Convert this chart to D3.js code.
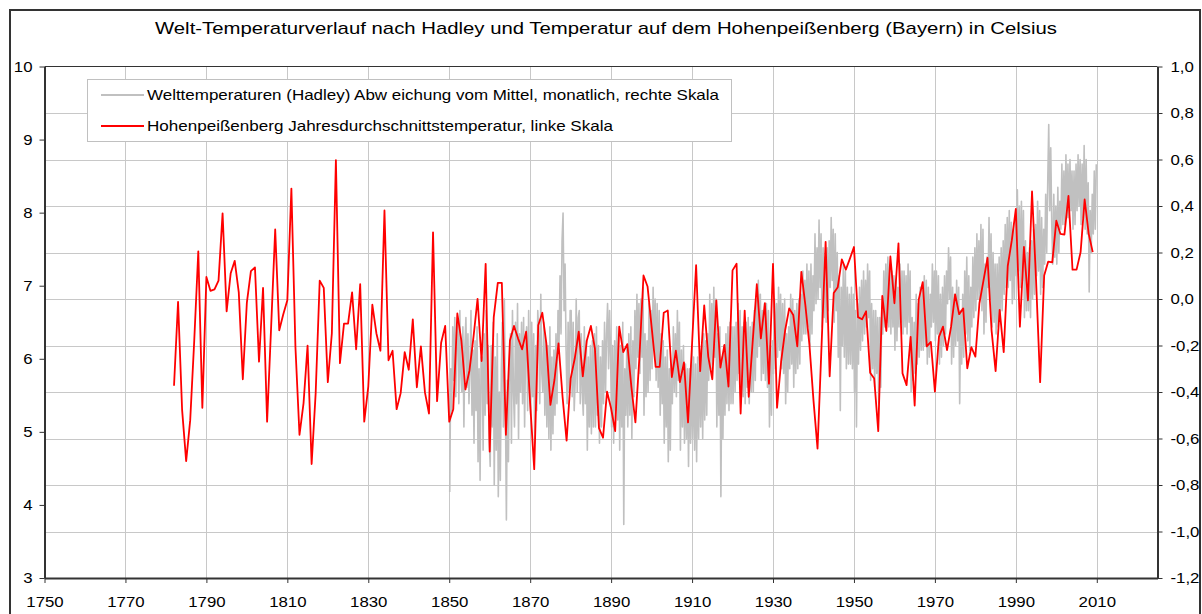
<!DOCTYPE html>
<html><head><meta charset="utf-8">
<script src="https://cdn.jsdelivr.net/npm/d3@7"></script>
<style>
html,body{margin:0;padding:0;background:#fff;}
svg{display:block;font-family:"Liberation Sans",Arial,sans-serif;}
</style></head><body>
<svg id="chart" width="1202" height="614"></svg>
<script>
const titleText = "Welt-Temperaturverlauf nach Hadley und Temperatur auf dem Hohenpeißenberg (Bayern) in Celsius";
const legendLabels = [
  "Welttemperaturen (Hadley) Abw eichung vom Mittel, monatlich, rechte Skala",
  "Hohenpeißenberg Jahresdurchschnittstemperatur, linke Skala"
];
const xTicks = [1750,1770,1790,1810,1830,1850,1870,1890,1910,1930,1950,1970,1990,2010];
const leftTicks = [3,4,5,6,7,8,9,10];
const rightTicks = [-1.2,-1.0,-0.8,-0.6,-0.4,-0.2,0.0,0.2,0.4,0.6,0.8,1.0];

// Hohenpeißenberg annual mean temperature (°C), left scale, one value per year
const hpbStartYear = 1782;
const hpbValues = [
5.63,6.78,5.30,4.60,5.16,6.25,7.47,5.33,7.12,6.93,
6.95,7.07,7.99,6.65,7.17,7.34,6.91,5.72,6.77,7.20,
7.25,5.96,6.97,5.14,6.44,7.77,6.39,6.61,6.80,8.33,
6.16,4.96,5.39,6.18,4.56,5.53,7.07,6.97,5.68,6.35,
8.72,5.94,6.48,6.48,6.91,6.13,7.02,5.14,5.62,6.74,
6.35,6.11,8.03,5.98,6.11,5.31,5.53,6.09,5.85,6.54,
5.61,6.17,5.54,5.25,7.73,5.42,6.22,6.45,5.14,5.31,
6.62,6.25,5.58,5.84,6.30,6.82,5.97,7.30,4.73,6.57,
7.04,7.04,4.96,6.25,6.45,6.28,6.13,6.37,5.39,4.49,
6.46,6.63,6.21,5.37,5.71,6.21,5.48,4.88,5.73,6.00,
6.37,5.76,6.25,6.45,6.14,5.05,4.92,5.55,5.32,5.01,
6.44,6.09,6.20,5.62,5.13,6.03,7.14,6.99,6.44,5.89,
5.89,6.63,6.66,5.75,6.11,5.68,5.95,5.13,6.21,7.28,
5.83,6.73,6.03,5.72,6.80,5.88,6.19,5.62,7.21,7.30,
5.25,6.66,5.48,6.25,7.02,6.28,6.76,5.66,7.30,5.33,
5.96,6.39,6.69,6.60,6.17,7.19,6.73,6.19,5.43,4.77,
6.19,7.60,5.76,6.90,6.98,7.36,7.22,7.37,7.53,6.57,
6.54,6.65,5.81,5.73,5.01,6.86,6.38,7.40,6.76,7.58,
5.80,5.64,6.30,5.36,6.81,7.05,6.17,6.23,5.55,6.30,
6.44,6.12,6.44,6.88,6.61,6.69,5.87,6.16,6.03,6.76,
7.07,7.38,6.39,5.83,6.67,6.09,7.27,7.62,8.05,6.44,
7.53,6.80,8.29,7.07,5.68,7.14,7.33,7.32,7.89,7.71,
7.70,8.23,7.22,7.22,7.46,8.18,7.71,7.46
];

// Hadley global anomaly (°C), right scale, four readings per year from 1850
const hadleyStartYear = 1850;
const hadleyPerYear = 4;
const hadleyValues = [
-0.83,-0.30,-0.48,-0.12, -0.35,-0.08,-0.42,-0.15, -0.10,-0.45,-0.05,-0.32, -0.40,-0.12,-0.55,-0.20, -0.08,-0.38,-0.15,-0.45,
-0.30,-0.05,-0.50,-0.22, -0.62,-0.18,-0.48,-0.12, -0.70,-0.30,-0.78,-0.25, -0.25,-0.65,-0.15,-0.50, -0.05,-0.45,-0.20,-0.60,
-0.72,-0.20,-0.55,-0.10, -0.80,-0.25,-0.65,-0.15, -0.85,-0.40,-0.78,-0.30, -0.10,-0.55,0.00,-0.45, -0.95,-0.35,-0.70,-0.28,
-0.15,-0.62,-0.05,-0.40, -0.55,-0.10,-0.45,-0.02, -0.60,-0.15,-0.40,-0.10, -0.45,-0.08,-0.55,-0.20, -0.12,-0.48,-0.05,-0.40,
-0.50,-0.10,-0.42,-0.15, -0.62,-0.20,-0.48,-0.05, -0.15,-0.45,0.02,-0.32, -0.40,-0.10,-0.50,-0.18, -0.55,-0.20,-0.60,-0.12,
-0.65,-0.25,-0.58,-0.22, -0.50,-0.15,-0.45,-0.05, -0.20,0.10,-0.15,0.25, 0.37,-0.05,0.15,-0.22, -0.45,-0.10,-0.40,-0.05,
-0.05,-0.42,-0.10,-0.48, -0.35,0.00,-0.40,-0.08, -0.05,-0.45,-0.15,-0.40, -0.50,-0.12,-0.45,-0.18, -0.65,-0.25,-0.55,-0.20,
-0.58,-0.18,-0.55,-0.15, -0.55,-0.12,-0.50,-0.20, -0.62,-0.25,-0.55,-0.18, -0.45,-0.10,-0.40,-0.15, -0.02,-0.30,-0.05,-0.25,
-0.55,-0.20,-0.62,-0.18, -0.48,-0.12,-0.52,-0.15, -0.65,-0.20,-0.55,-0.10, -0.97,-0.30,-0.50,-0.20, -0.55,-0.15,-0.50,-0.12,
-0.60,-0.18,-0.42,-0.05, -0.30,0.02,-0.25,-0.02, -0.32,0.00,-0.25,0.05, -0.50,-0.15,-0.42,-0.18, -0.40,-0.02,-0.35,-0.05,
-0.30,0.05,-0.22,0.00, -0.35,-0.02,-0.38,-0.05, -0.50,-0.15,-0.45,-0.18, -0.62,-0.25,-0.55,-0.22, -0.70,-0.30,-0.65,-0.28,
-0.45,-0.12,-0.40,-0.15, -0.42,-0.05,-0.35,-0.10, -0.65,-0.22,-0.55,-0.20, -0.62,-0.28,-0.60,-0.30, -0.72,-0.30,-0.62,-0.28,
-0.60,-0.25,-0.65,-0.28, -0.70,-0.25,-0.60,-0.22, -0.55,-0.20,-0.60,-0.15, -0.52,-0.18,-0.50,-0.15, -0.35,0.02,-0.30,-0.02,
-0.28,0.05,-0.25,0.00, -0.55,-0.15,-0.50,-0.12, -0.85,-0.25,-0.60,-0.20, -0.50,-0.15,-0.45,-0.12, -0.48,-0.10,-0.45,-0.12,
-0.45,-0.12,-0.40,-0.10, -0.35,-0.02,-0.32,-0.05, -0.45,-0.12,-0.42,-0.10, -0.45,-0.10,-0.38,-0.08, -0.45,-0.12,-0.40,-0.10,
-0.40,-0.05,-0.35,0.00, -0.25,0.08,-0.20,0.02, -0.35,-0.05,-0.32,-0.02, -0.35,-0.02,-0.38,-0.05, -0.55,-0.20,-0.50,-0.18,
-0.32,0.00,-0.30,-0.02, -0.25,0.05,-0.22,0.02, -0.30,-0.02,-0.32,0.00, -0.45,-0.15,-0.40,-0.12, -0.30,0.02,-0.28,0.00,
-0.38,-0.05,-0.32,-0.02, -0.30,0.00,-0.28,0.02, -0.18,0.12,-0.15,0.08, -0.15,0.15,-0.12,0.12, -0.20,0.15,-0.15,0.10,
-0.05,0.28,-0.02,0.22, 0.00,0.34,0.05,0.28, -0.12,0.22,-0.08,0.18, -0.10,0.22,-0.05,0.25, 0.05,0.35,0.08,0.30,
-0.10,0.28,-0.05,0.20, -0.25,0.10,-0.48,0.05, -0.20,0.15,-0.25,0.12, -0.30,0.05,-0.28,0.02, -0.28,0.05,-0.30,0.02,
-0.40,-0.05,-0.55,-0.02, -0.28,0.05,-0.22,0.08, -0.18,0.12,-0.15,0.08, -0.12,0.15,-0.08,0.12, -0.35,-0.02,-0.30,-0.05,
-0.38,-0.05,-0.32,-0.08, -0.45,-0.08,-0.38,-0.05, -0.15,0.12,-0.12,0.15, -0.10,0.18,-0.12,0.12, -0.15,0.12,-0.12,0.10,
-0.22,0.08,-0.18,0.05, -0.12,0.15,-0.10,0.12, -0.15,0.12,-0.12,0.10, -0.15,0.15,-0.10,0.12, -0.40,-0.08,-0.35,-0.10,
-0.32,0.02,-0.28,-0.02, -0.25,0.05,-0.22,0.05, -0.22,0.10,-0.20,0.08, -0.28,0.05,-0.25,0.02, -0.12,0.15,-0.10,0.12,
-0.18,0.12,-0.15,0.10, -0.28,0.02,-0.25,0.05, -0.20,0.10,-0.15,0.12, -0.02,0.22,0.00,0.18, -0.28,0.05,-0.25,0.02,
-0.20,0.08,-0.18,0.05, -0.45,-0.05,-0.28,0.02, -0.25,0.12,-0.15,0.18, -0.18,0.10,-0.22,0.05, -0.12,0.18,-0.08,0.22,
-0.05,0.28,0.00,0.25, 0.00,0.32,-0.05,0.30, -0.15,0.15,-0.10,0.18, 0.05,0.35,0.00,0.28, -0.12,0.20,-0.10,0.15,
-0.15,0.15,-0.12,0.18, -0.08,0.22,-0.05,0.25, 0.02,0.32,0.05,0.35, 0.05,0.38,0.08,0.33, -0.02,0.30,0.00,0.35,
0.10,0.47,0.12,0.40, 0.05,0.42,0.08,0.38, -0.08,0.25,-0.05,0.20, -0.05,0.22,-0.08,0.25, 0.00,0.30,0.02,0.32,
0.10,0.42,0.12,0.38, 0.02,0.35,0.05,0.30, 0.15,0.45,0.20,0.50, 0.75,0.38,0.65,0.32, 0.15,0.45,0.18,0.40,
0.15,0.48,0.20,0.42, 0.30,0.58,0.32,0.55, 0.32,0.62,0.35,0.58, 0.35,0.60,0.38,0.55, 0.30,0.55,0.32,0.58,
0.38,0.62,0.40,0.60, 0.32,0.58,0.35,0.66, 0.30,0.60,0.28,0.50, 0.03,0.38,0.20,0.45, 0.28,0.55,0.30,0.58
];

const svg = d3.select("#chart");
const plot = {left: 44.5, right: 1157.5, top: 66.5, bottom: 578};

const x = d3.scaleLinear().domain([1750, 2025]).range([plot.left, plot.right]);
const yL = d3.scaleLinear().domain([3, 10]).range([plot.bottom, plot.top]);
const yR = d3.scaleLinear().domain([-1.2, 1.0]).range([plot.bottom, plot.top]);

// outer frame
svg.append("rect").attr("x", 10).attr("y", 10).attr("width", 1190).attr("height", 640)
  .attr("fill", "#fff").attr("stroke", "#333").attr("stroke-width", 2);

// title
svg.append("text").attr("x", 606).attr("y", 34).attr("text-anchor", "middle")
  .attr("font-size", 17).attr("fill", "#000")
  .attr("textLength", 902).attr("lengthAdjust", "spacingAndGlyphs")
  .text(titleText);

// gridlines
const grid = svg.append("g").attr("stroke", "#c8c8c8").attr("stroke-width", 1).attr("shape-rendering", "crispEdges");
grid.selectAll("line.v").data(xTicks.slice(1)).join("line")
  .attr("x1", d => Math.round(x(d)) + 0.5).attr("x2", d => Math.round(x(d)) + 0.5)
  .attr("y1", plot.top).attr("y2", plot.bottom);
grid.selectAll("line.h").data(rightTicks.slice(1, -1)).join("line")
  .attr("y1", d => Math.round(yR(d)) + 0.5).attr("y2", d => Math.round(yR(d)) + 0.5)
  .attr("x1", plot.left).attr("x2", plot.right);

// Hadley gray line
const hadleyPts = hadleyValues.map((v, i) => [hadleyStartYear + (i + 0.5) / hadleyPerYear, v]);
svg.append("path").datum(hadleyPts)
  .attr("fill", "none").attr("stroke", "#c0c0c0").attr("stroke-width", 1.6)
  .attr("stroke-linejoin", "round")
  .attr("d", d3.line().x(d => x(d[0])).y(d => yR(d[1])));

// Hohenpeissenberg red line
const hpbPts = hpbValues.map((v, i) => [hpbStartYear + i, v]);
svg.append("path").datum(hpbPts)
  .attr("fill", "none").attr("stroke", "#ff0000").attr("stroke-width", 1.8)
  .attr("stroke-linejoin", "round")
  .attr("d", d3.line().x(d => x(d[0])).y(d => yL(d[1])));

// plot top border
svg.append("line").attr("x1", plot.left).attr("x2", plot.right)
  .attr("y1", plot.top).attr("y2", plot.top).attr("stroke", "#333").attr("stroke-width", 1);

// axes
const fmtR = d => d3.format(".1f")(d).replace(".", ",").replace("\u2212", "-");
const axisStyle = g => {
  g.selectAll(".domain").attr("stroke", "#333").attr("stroke-width", 2);
  g.selectAll(".tick line").attr("stroke", "#333").attr("stroke-width", 1);
  g.selectAll(".tick text").attr("fill", "#000").attr("font-size", 15)
    .attr("font-family", "'Liberation Sans', Arial, sans-serif")
    .each(function() {
      const w = this.getComputedTextLength();
      d3.select(this).attr("textLength", w * 1.12).attr("lengthAdjust", "spacingAndGlyphs");
    });
};
svg.append("g").attr("transform", `translate(${plot.left},0)`)
  .call(d3.axisLeft(yL).tickValues(leftTicks).tickFormat(d3.format("d")).tickSize(5).tickSizeOuter(0).tickPadding(7))
  .call(axisStyle);
svg.append("g").attr("transform", `translate(${plot.right},0)`)
  .call(d3.axisRight(yR).tickValues(rightTicks).tickFormat(fmtR).tickSize(5).tickSizeOuter(0).tickPadding(8))
  .call(axisStyle);
svg.append("g").attr("transform", `translate(0,${plot.bottom})`)
  .call(d3.axisBottom(x).tickValues(xTicks).tickFormat(d3.format("d")).tickSize(5).tickSizeOuter(0).tickPadding(13))
  .call(axisStyle);

// legend
const lg = svg.append("g");
lg.append("rect").attr("x", 87.5).attr("y", 79.5).attr("width", 644).attr("height", 62)
  .attr("fill", "#fff").attr("stroke", "#c0c0c0").attr("stroke-width", 1);
const legendColors = ["#c0c0c0", "#ff0000"];
const legendWidths = [572, 466];
legendLabels.forEach((lab, i) => {
  const cy = 95 + i * 31;
  lg.append("line").attr("x1", 101).attr("x2", 144).attr("y1", cy).attr("y2", cy)
    .attr("stroke", legendColors[i]).attr("stroke-width", 1.8);
  lg.append("text").attr("x", 147).attr("y", cy + 5).attr("font-size", 15).attr("fill", "#000")
    .attr("textLength", legendWidths[i]).attr("lengthAdjust", "spacingAndGlyphs")
    .text(lab);
});
</script>
</body></html>
